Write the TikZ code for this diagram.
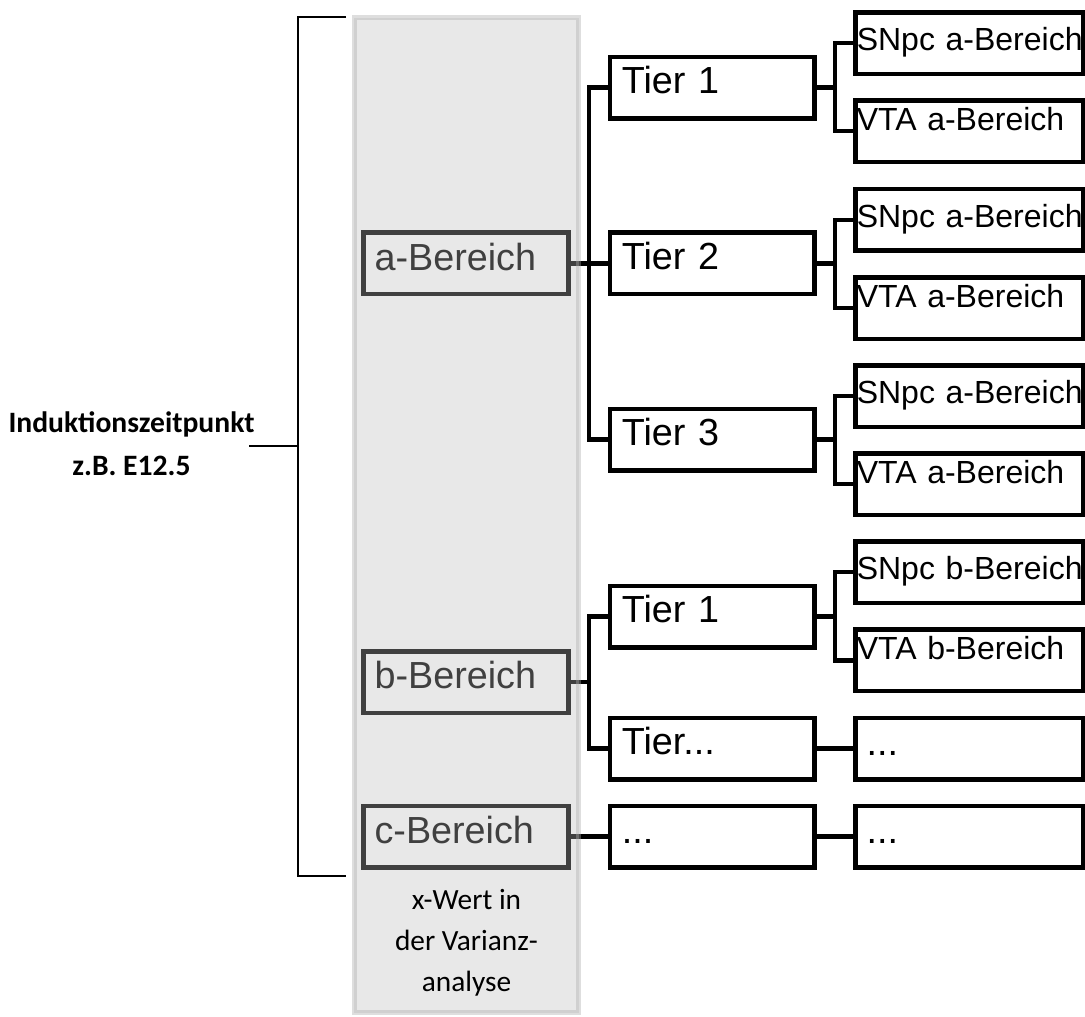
\documentclass[tikz,border=0pt]{standalone}
\usepackage{fontspec}
\setmainfont{Liberation Sans}
\newfontfamily\calibrif{Carlito}
\usetikzlibrary{calc}
% one drawing unit = one pixel of a 96 dpi layout
\newcommand{\pxl}{0.75pt}
\definecolor{panelfill}{RGB}{188,188,188}
\definecolor{panelline}{RGB}{172,172,172}

\begin{document}
\begin{tikzpicture}[x=0.75pt, y=-0.75pt,
  every node/.style={inner sep=0pt, outer sep=0pt},
  box/.style={draw=black, line width=4.5*\pxl, fill=white, rectangle, align=left,
    minimum height=61.5*\pxl},
  bigtext/.style={font=\fontsize{28.3}{34}\selectfont},
  rangebox/.style={box, bigtext, minimum width=205*\pxl,
    inner xsep=11.1*\pxl, text width=182.8*\pxl,
    text height=13.4*\pxl, text depth=0pt},
  tierbox/.style={box, bigtext, minimum width=204.5*\pxl,
    inner xsep=12.1*\pxl, text width=180.3*\pxl,
    text height=11.6*\pxl, text depth=0pt},
  dotbox/.style={tierbox, text height=14*\pxl},
  % one unbroken line, set flush left
  areabox/.style={box, minimum width=227.5*\pxl,
    inner xsep=1.5*\pxl, text width=224.5*\pxl,
    font=\fontsize{24}{28}\selectfont,
    execute at begin node={\hbox\bgroup}, execute at end node={\egroup}},
  snbox/.style={areabox, text height=15*\pxl, text depth=0pt},
  vtabox/.style={areabox, text height=0pt, text depth=2*\pxl},
  moreBox/.style={areabox, bigtext, inner xsep=11.4*\pxl, text width=204.7*\pxl,
    text height=14*\pxl, text depth=0pt},
  conn/.style={draw=black, line width=4.5*\pxl},
  elbow/.style={to path={-| ($(\tikztostart)!0.5!(\tikztotarget)$) |- (\tikztotarget)}},
  bracketline/.style={draw=black, line width=2.2*\pxl},
  sidelabel/.style={font={\calibrif\fontsize{22.2}{26}\selectfont\bfseries}, anchor=base},
  notelabel/.style={font={\calibrif\fontsize{22}{26}\selectfont}, anchor=base}
]
\useasboundingbox (0,0) rectangle (1085,1017);

% ranges of the x value
\node[rangebox] (ra) at (466,263.3) {a-Bereich};
\node[rangebox] (rb) at (466,682) {b-Bereich};
\node[rangebox] (rc) at (466,836.5) {c-Bereich};

% animals
\node[tierbox] (t1a) at (712,87.5) {Tier 1};
\node[tierbox] (t2a) at (712,263.3) {Tier 2};
\node[tierbox] (t3a) at (712,439.5) {Tier 3};
\node[tierbox] (t1b) at (712,616.5) {Tier 1};
\node[tierbox] (txb) at (712,748.5) {Tier...};
\node[dotbox]  (tc)  at (712,836.5) {...};

% brain areas
\node[snbox]  (s1a) at (969,43) {SNpc a-Bereich};
\node[vtabox] (v1a) at (969,131) {VTA a-Bereich};
\node[snbox]  (s2a) at (969,219.8) {SNpc a-Bereich};
\node[vtabox] (v2a) at (969,308) {VTA a-Bereich};
\node[snbox]  (s3a) at (969,396) {SNpc a-Bereich};
\node[vtabox] (v3a) at (969,484) {VTA a-Bereich};
\node[snbox]  (s1b) at (969,572) {SNpc b-Bereich};
\node[vtabox] (v1b) at (969,660.3) {VTA b-Bereich};
\node[moreBox] (mxb) at (969,748.5) {...};
\node[moreBox] (mc)  at (969,836.5) {...};

% connectors
\foreach \t in {t1a,t2a,t3a} \draw[conn] (ra.east) to[elbow] (\t.west);
\foreach \t in {t1b,txb} \draw[conn] (rb.east) to[elbow] (\t.west);
\draw[conn] (rc.east) -- (tc.west);
\draw[conn] (t1a.east) to[elbow] (s1a.west);
\draw[conn] (t1a.east) to[elbow] (v1a.west);
\draw[conn] (t2a.east) to[elbow] (s2a.west);
\draw[conn] (t2a.east) to[elbow] (v2a.west);
\draw[conn] (t3a.east) to[elbow] (s3a.west);
\draw[conn] (t3a.east) to[elbow] (v3a.west);
\draw[conn] (t1b.east) to[elbow] (s1b.west);
\draw[conn] (t1b.east) to[elbow] (v1b.west);
\draw[conn] (txb.east) -- (mxb.west);
\draw[conn] (tc.east) -- (mc.west);

% translucent column over the x values
\path[fill=panelfill, fill opacity=0.341, draw=panelline, draw opacity=0.4,
      line width=5*\pxl] (354,17.5) rectangle (578.5,1012.5);

\node[notelabel] (n1) at (466.5,909) {x-Wert in};
\node[notelabel] (n2) at (466.5,950) {der Varianz-};
\node[notelabel] (n3) at (466.5,991) {analyse};

% time of induction with its bracket
\node[sidelabel] (ind1) at (131.5,432) {Induktionszeitpunkt};
\node[sidelabel] (ind2) at (131.5,475) {z.B. E12.5};
\coordinate (tick) at (249,446);
\coordinate (btop) at (346,17);
\coordinate (bbot) at (346,876);
\draw[bracketline] (btop) -- (298,17) -- (298,876) -- (bbot);
\draw[bracketline] (tick) -- (298,446);
\end{tikzpicture}
\end{document}
